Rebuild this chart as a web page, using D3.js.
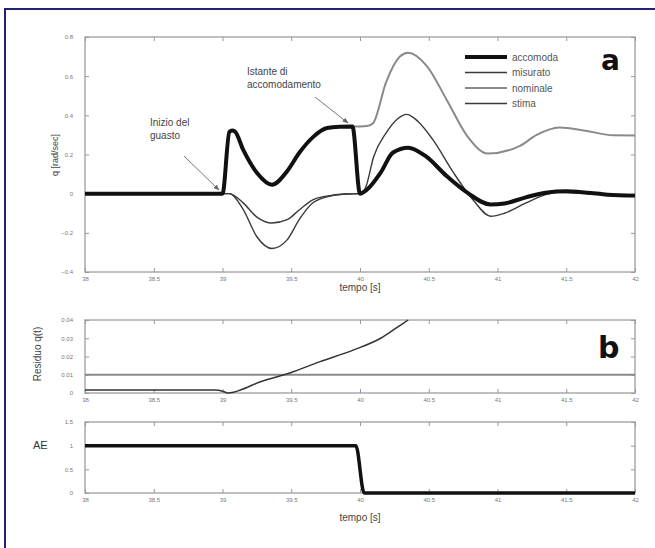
<!DOCTYPE html>
<html>
<head>
<meta charset="utf-8">
<script src="https://cdn.jsdelivr.net/npm/d3@7"></script>
<style>
  body { margin: 0; background: #fff; }
  svg { font-family: "Liberation Sans", Arial, sans-serif; }
  .tick text { fill: #777; font-size: 6px; }
  .tick line { stroke: #999; }
  .domain { stroke: none; }
</style>
</head>
<body>
<div id="chart"></div>
<script>
// time axis, shared by the three panels
const timeTicks = [38, 38.5, 39, 39.5, 40, 40.5, 41, 41.5, 42];
const qTicks = [-0.4, -0.2, 0, 0.2, 0.4, 0.6, 0.8];
const resTicks = [0, 0.01, 0.02, 0.03, 0.04];
const aeTicks = [0, 0.5, 1, 1.5];

// panel a: q [rad/sec]  ([t, q])
const accomoda = [[38, 0], [39.0, 0], [39.05, 0.315], [39.07, 0.322], [39.09, 0.318], [39.15, 0.225],
  [39.25, 0.107], [39.36, 0.046], [39.47, 0.115], [39.56, 0.21], [39.66, 0.29], [39.76, 0.335],
  [39.85, 0.342], [39.945, 0.343], [40.0, 0], [40.05, 0.02], [40.15, 0.107], [40.24, 0.21],
  [40.35, 0.235], [40.48, 0.19], [40.63, 0.09], [40.78, 0.005], [40.95, -0.055], [41.05, -0.05],
  [41.2, -0.02], [41.35, 0.005], [41.5, 0.012], [41.65, 0.005], [41.8, -0.005], [42, -0.01]];
const misurato = [[38, 0], [39.05, 0], [39.15, -0.08], [39.25, -0.22], [39.36, -0.28], [39.47, -0.236],
  [39.56, -0.13], [39.66, -0.045], [39.8, -0.01], [39.9, -0.002], [40.0, 0], [40.04, 0.03],
  [40.1, 0.19], [40.19, 0.31], [40.27, 0.38], [40.34, 0.405], [40.42, 0.37], [40.53, 0.276],
  [40.68, 0.107], [40.82, -0.03], [40.95, -0.115], [41.05, -0.1], [41.2, -0.05], [41.35, -0.005],
  [41.45, 0.007], [41.6, 0.003], [41.8, -0.007], [42, -0.01]];
const nominale = [[38, 0], [39.0, 0], [39.05, 0.315], [39.07, 0.322], [39.09, 0.318], [39.15, 0.225],
  [39.25, 0.107], [39.36, 0.046], [39.47, 0.115], [39.56, 0.21], [39.66, 0.29], [39.76, 0.335],
  [39.85, 0.342], [40.0, 0.343], [40.05, 0.345], [40.095, 0.36], [40.19, 0.57], [40.29, 0.70],
  [40.35, 0.72], [40.485, 0.653], [40.63, 0.48], [40.78, 0.294], [40.93, 0.205], [41.16, 0.243],
  [41.285, 0.30], [41.45, 0.338], [41.65, 0.32], [41.84, 0.298], [42, 0.297]];
const stima = [[38, 0], [39.05, 0], [39.15, -0.047], [39.25, -0.12], [39.36, -0.15], [39.47, -0.133],
  [39.56, -0.082], [39.66, -0.03], [39.8, -0.008], [39.9, -0.002], [40.0, 0], [40.05, 0.02],
  [40.15, 0.107], [40.24, 0.21], [40.35, 0.235], [40.48, 0.19], [40.63, 0.09], [40.78, 0.005],
  [40.95, -0.055], [41.05, -0.05], [41.2, -0.02], [41.35, 0.005], [41.5, 0.012], [41.65, 0.005],
  [41.8, -0.005], [42, -0.01]];

// panel b: residuo and soglia, then AE flag
const residuo = [[38, 0.0016], [38.95, 0.0016], [39.0, 0.001], [39.04, 0.0], [39.08, 0.0004],
  [39.13, 0.0016], [39.27, 0.006], [39.49, 0.011], [39.71, 0.0172], [39.95, 0.0235],
  [40.15, 0.030], [40.27, 0.036], [40.35, 0.040]];
const soglia = [[38, 0.01], [42, 0.01]];
const ae = [[38, 1], [39.97, 1], [40.03, 0], [42, 0]];

const legendNames = ["accomoda", "misurato", "nominale", "stima"];

const width = 655, height = 548;
const left = 85, right = 635;

const svg = d3.select("#chart").append("svg").attr("width", width).attr("height", height);

// outer frame
svg.append("path").attr("d", "M5," + height + "V9H" + width)
  .attr("fill", "none").attr("stroke", "#22227e").attr("stroke-width", 2);

const x = d3.scaleLinear().domain([38, 42]).range([left, right]);

function panel(top, bottom, yDomain, yTicks) {
  const y = d3.scaleLinear().domain(yDomain).range([bottom, top]);
  const g = svg.append("g");
  g.append("rect").attr("x", left).attr("y", top).attr("width", right - left).attr("height", bottom - top)
    .attr("fill", "none").attr("stroke", "#aaa").attr("stroke-width", 1.5);
  g.append("g").attr("transform", "translate(0," + bottom + ")")
    .call(d3.axisBottom(x).tickValues(timeTicks).tickSize(-4).tickPadding(5).tickFormat(d3.format("")));
  g.append("g").attr("transform", "translate(0," + top + ")")
    .call(d3.axisTop(x).tickValues(timeTicks).tickSize(-4).tickFormat(""));
  g.append("g").attr("transform", "translate(" + left + ",0)")
    .call(d3.axisLeft(y).tickValues(yTicks).tickSize(-4).tickPadding(12).tickFormat(d3.format("")));
  g.append("g").attr("transform", "translate(" + right + ",0)")
    .call(d3.axisRight(y).tickValues(yTicks).tickSize(-4).tickFormat(""));
  return y;
}

function draw(y, data, color, w, clip) {
  const line = d3.line().x(d => x(d[0])).y(d => y(d[1])).curve(d3.curveMonotoneX);
  svg.append("path").datum(data).attr("d", line).attr("fill", "none")
    .attr("stroke", color).attr("stroke-width", w).attr("stroke-linejoin", "round");
}

// --- panel a
const yq = panel(37, 272, [-0.4, 0.8], qTicks);
draw(yq, nominale, "#8a8a8a", 2);
draw(yq, misurato, "#3a3a3a", 1.4);
draw(yq, stima, "#3a3a3a", 1.4);
draw(yq, accomoda, "#111", 4);

// legend
const legendStyle = [["#111", 4], ["#3a3a3a", 1.4], ["#8a8a8a", 2], ["#3a3a3a", 1.4]];
legendNames.forEach((name, i) => {
  const ly = 57 + i * 15.5;
  svg.append("line").attr("x1", 465).attr("x2", 507).attr("y1", ly).attr("y2", ly)
    .attr("stroke", legendStyle[i][0]).attr("stroke-width", legendStyle[i][1]);
  svg.append("text").attr("x", 512).attr("y", ly + 3.5).attr("font-size", 10)
    .attr("fill", "#555").text(name);
});

svg.append("text").attr("x", 601).attr("y", 70).attr("font-size", 28).attr("font-weight", "bold")
  .attr("font-family", "'DejaVu Sans', sans-serif").attr("fill", "#111").text("a");

// annotations
svg.append("defs").append("marker").attr("id", "arr").attr("viewBox", "0 0 10 10")
  .attr("refX", 9).attr("refY", 5).attr("markerWidth", 6).attr("markerHeight", 6).attr("orient", "auto")
  .append("path").attr("d", "M0,1L10,5L0,9z").attr("fill", "#666");

function note(lines, tx, ty, ax1, ay1, ax2, ay2) {
  const t = svg.append("text").attr("x", tx).attr("y", ty).attr("font-size", 10).attr("fill", "#444");
  lines.forEach((s, i) => t.append("tspan").attr("x", tx).attr("dy", i ? 13 : 0).text(s));
  svg.append("line").attr("x1", ax1).attr("y1", ay1).attr("x2", ax2).attr("y2", ay2)
    .attr("stroke", "#777").attr("stroke-width", 1).attr("marker-end", "url(#arr)");
}
note(["Inizio del", "guasto"], 150, 126, 184, 156, 219, 190);
note(["Istante di", "accomodamento"], 247, 75, 315, 97, 348, 123);

svg.append("text").attr("transform", "translate(58,155) rotate(-90)").attr("text-anchor", "middle")
  .attr("font-size", 9).attr("fill", "#444").text("q [rad/sec]");
svg.append("text").attr("x", 360).attr("y", 291).attr("text-anchor", "middle")
  .attr("font-size", 10).attr("fill", "#444").text("tempo [s]");

// --- panel b, residuo
const yr = panel(320, 393, [0, 0.04], resTicks);
draw(yr, soglia, "#8a8a8a", 2.2);
draw(yr, residuo, "#333", 1.5);
svg.append("text").attr("transform", "translate(41,354) rotate(-90)").attr("text-anchor", "middle")
  .attr("font-size", 10).attr("fill", "#444").text("Residuo q(t)");
svg.append("text").attr("x", 598).attr("y", 358).attr("font-size", 30).attr("font-weight", "bold")
  .attr("font-family", "'DejaVu Sans', sans-serif").attr("fill", "#111").text("b");

// --- AE
const ya = panel(422, 493, [0, 1.5], aeTicks);
draw(ya, ae, "#111", 3.5);
svg.append("text").attr("x", 33).attr("y", 449).attr("font-size", 11).attr("fill", "#333").text("AE");
svg.append("text").attr("x", 360).attr("y", 521).attr("text-anchor", "middle")
  .attr("font-size", 10).attr("fill", "#444").text("tempo [s]");
</script>
</body>
</html>
